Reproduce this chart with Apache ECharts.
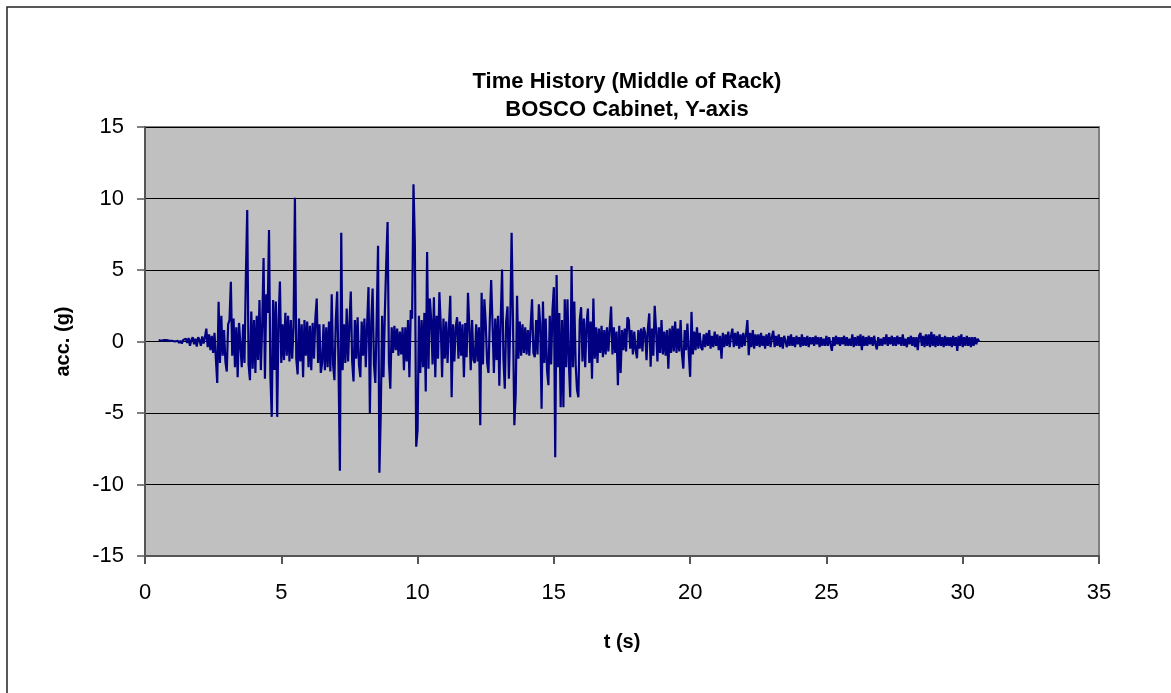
<!DOCTYPE html>
<html>
<head>
<meta charset="utf-8">
<script src="https://cdn.jsdelivr.net/npm/echarts@6/dist/echarts.min.js"></script>
<style>
  html, body { margin: 0; padding: 0; background: #fff; }
  #chart { width: 1171px; height: 693px; }
</style>
</head>
<body>
<div id="chart"></div>
<script>
  // sampling of the record (s)
  var tStart = 0.5;
  var dt = 0.05;

  // acceleration (g), one row per second from tStart
  var accel = [
    0.1,0.1,0.05,0.1,0.1,0.05,0.1,0.1,0.05,0.1,0.05,0.1,0.0,0.1,0.05,-0.1,0.05,-0.15,0.1,0.0,
    0.2,-0.1,0.25,-0.3,0.1,0.3,-0.2,0.2,-0.35,0.3,0.1,-0.3,0.35,-0.15,0.3,0.9,-0.4,0.5,-0.6,0.4,
    -0.8,0.6,-1.2,-2.9,2.77,-1.5,1.8,-1.0,0.8,-1.4,-2.1,1.2,1.5,4.17,-1.0,1.6,-1.8,1.0,-2.5,1.3,
    1.4,-1.8,1.2,-1.5,4.5,9.2,-1.6,-2.7,2.1,-1.9,1.5,-2.2,1.8,-1.3,2.9,-2.0,1.2,5.84,-2.6,3.3,
    2.0,7.8,-2.4,-5.27,2.9,-2.0,2.8,-5.27,1.5,4.2,-1.5,1.2,-1.3,2.0,-1.0,1.8,-1.4,1.5,-1.2,1.0,
    10.06,-1.2,-2.3,1.6,-1.4,1.2,-2.5,1.5,-1.0,1.4,-1.8,1.1,-2.0,1.3,-1.2,1.6,3.0,-1.5,1.2,-2.2,
    -1.5,1.2,-2.0,1.0,-1.8,1.4,-2.1,3.3,-1.6,-2.7,1.5,3.5,-1.8,-9.04,7.6,-2.0,1.2,-1.5,2.3,-1.4,
    1.2,3.5,-1.4,-2.8,1.5,-1.2,1.7,-1.6,-2.5,1.4,-1.0,1.6,-1.8,1.2,3.8,-5.0,1.3,3.7,-1.6,-2.9,
    1.5,6.7,-9.18,-5.0,1.8,-2.5,2.0,5.5,8.36,-1.5,-3.3,1.0,-0.8,1.1,-0.6,0.9,-1.0,0.7,-0.9,1.0,
    -2.0,1.0,-1.4,1.5,-2.5,2.2,1.6,11.0,6.9,-7.36,-6.2,1.8,-2.2,1.5,-1.8,2.0,-3.5,6.26,-1.9,3.0,
    1.5,-1.6,3.1,-2.5,1.8,-1.2,3.45,1.2,-2.5,1.6,-1.2,1.4,-1.5,1.0,3.2,-3.9,1.2,-1.4,1.0,1.7,
    -1.2,1.4,-1.0,1.2,-2.5,1.3,-1.1,3.4,1.0,-2.0,1.5,-1.3,-1.5,1.2,-1.4,1.0,-5.85,3.4,-1.6,2.95,
    1.3,-1.4,-2.2,1.5,4.3,1.2,-2.2,1.6,-1.3,1.8,-3.1,1.5,5.03,-1.2,-3.3,1.4,2.45,-2.6,1.2,7.6,
    1.5,-5.85,-3.7,3.2,-1.2,1.4,-1.0,1.2,-0.8,1.0,-0.9,0.8,-1.0,1.1,2.95,-0.8,-1.1,1.5,-0.9,2.6,
    1.2,-4.7,2.8,-1.5,1.6,-2.0,-3.05,1.8,-1.6,2.2,3.8,-8.1,4.65,-1.8,2.0,-4.6,1.5,-4.6,2.95,-1.8,
    2.95,-1.5,-3.9,5.28,-1.8,2.8,-1.6,-3.4,-3.9,1.5,2.4,-1.4,1.6,-1.8,1.2,2.3,-1.5,1.4,-2.6,3.0,
    -1.2,1.0,-1.5,0.9,-0.8,1.1,-1.1,0.8,-0.9,1.0,-0.7,0.9,2.45,-0.9,1.0,-0.8,0.7,-3.05,1.1,-2.2,
    0.8,-0.6,0.9,-0.7,1.7,1.5,-0.5,0.8,-0.9,0.7,-0.6,-1.17,0.8,-0.5,0.9,-0.7,1.0,0.6,-1.3,0.9,
    1.96,-1.77,0.9,-1.0,2.49,0.8,-1.4,1.0,-0.8,1.5,-0.9,0.7,-1.0,0.8,-1.9,0.9,-0.8,1.1,-0.7,1.4,
    -0.8,0.9,-0.7,1.5,-0.9,-1.9,0.8,-0.6,1.25,-0.8,-2.47,2.07,-0.9,0.7,-0.6,1.0,-0.5,0.6,-0.4,-0.6,
    0.5,-0.4,0.6,-0.3,0.8,-0.5,0.4,-0.4,0.7,-0.3,0.5,-0.6,0.4,-1.2,0.6,-0.4,0.5,-0.3,0.7,-0.4,
    0.4,0.9,-0.4,0.6,-0.3,0.7,-0.5,0.5,-0.4,0.6,-0.3,0.5,1.5,-0.95,0.6,-0.4,0.8,-0.5,0.5,-0.3,
    0.5,-0.4,0.6,-0.3,0.4,-0.5,0.5,-0.3,0.6,-0.4,0.3,0.75,-0.4,0.4,-0.3,0.5,-0.4,0.3,-0.5,0.4,
    0.3,-0.4,0.4,-0.3,0.5,-0.3,0.3,-0.4,0.4,-0.2,0.3,-0.4,0.5,-0.3,0.3,-0.3,0.4,-0.4,0.3,-0.2,
    0.3,-0.3,0.4,-0.2,0.3,-0.4,0.3,-0.3,0.2,-0.3,0.4,-0.3,0.3,-0.2,-0.65,0.3,-0.3,0.4,-0.2,0.3,
    -0.3,0.3,-0.2,0.4,-0.3,0.3,-0.3,0.2,-0.3,0.5,-0.4,0.3,-0.3,0.4,-0.3,0.5,-0.6,0.4,-0.3,0.3,
    -0.3,0.4,-0.2,0.3,-0.3,0.4,-0.2,-0.55,0.3,-0.3,0.2,-0.3,0.3,-0.2,0.5,-0.3,0.3,-0.2,0.4,-0.3,
    0.3,-0.3,0.4,-0.2,0.3,-0.3,0.5,-0.3,0.2,-0.4,0.3,-0.2,0.4,-0.3,0.3,-0.4,0.3,-0.6,0.4,0.6,
    -0.3,0.4,-0.4,0.5,-0.3,0.5,-0.4,0.68,-0.3,0.5,-0.4,0.4,-0.3,0.5,-0.3,0.3,-0.4,0.4,-0.3,0.3,
    -0.3,0.3,-0.4,0.4,-0.3,0.3,-0.66,0.4,-0.3,0.5,-0.4,0.3,-0.3,0.4,-0.3,0.3,-0.4,0.3,-0.3,0.3,
    -0.2,0.2,0.0
  ];

  var titleLines = ['Time History (Middle of Rack)', 'BOSCO Cabinet, Y-axis'];
  var xName = 't (s)';
  var yName = 'acc. (g)';

  var chart = echarts.init(document.getElementById('chart'), null, { renderer: 'canvas' });

  var seriesData = accel.map(function (v, i) {
    return [+(tStart + i * dt).toFixed(3), v];
  });

  var font = 'Liberation Sans, Arial, sans-serif';

  chart.setOption({
    animation: false,
    backgroundColor: '#fff',
    title: {
      text: titleLines.join('\n'),
      left: 622,
      top: 63,
      textAlign: 'center',
      textStyle: {
        fontFamily: font,
        fontSize: 22,
        fontWeight: 'bold',
        color: '#000',
        lineHeight: 28
      }
    },
    graphic: [
      {
        type: 'polyline',
        shape: { points: [[7, 700], [7, 7], [1180, 7]] },
        style: { stroke: '#222', lineWidth: 1.5, fill: null }
      }
    ],
    grid: {
      left: 145,
      right: 72,
      top: 127,
      bottom: 137,
      show: true,
      backgroundColor: '#c0c0c0',
      borderColor: '#808080',
      borderWidth: 2
    },
    xAxis: {
      type: 'value',
      min: 0,
      max: 35,
      interval: 5,
      name: xName,
      nameLocation: 'middle',
      nameGap: 76,
      nameTextStyle: { fontFamily: font, fontSize: 20, fontWeight: 'bold', color: '#000' },
      axisLine: { show: true, onZero: false, lineStyle: { color: '#555', width: 2 } },
      axisTick: { show: true, inside: false, length: 8, lineStyle: { color: '#555', width: 2 } },
      axisLabel: { fontFamily: font, fontSize: 22, color: '#000', margin: 26 },
      splitLine: { show: false }
    },
    yAxis: {
      type: 'value',
      min: -15,
      max: 15,
      interval: 5,
      name: yName,
      nameLocation: 'middle',
      nameGap: 72,
      nameRotate: 90,
      nameTextStyle: { fontFamily: font, fontSize: 20, fontWeight: 'bold', color: '#000' },
      axisLine: { show: true, lineStyle: { color: '#555', width: 2 } },
      axisTick: { show: true, inside: false, length: 8, lineStyle: { color: '#555', width: 1.5 } },
      axisLabel: { fontFamily: font, fontSize: 22, color: '#000', margin: 21 },
      splitLine: { show: true, lineStyle: { color: '#000', width: 1 } }
    },
    series: [
      {
        type: 'line',
        data: seriesData,
        showSymbol: false,
        symbol: 'none',
        sampling: null,
        lineStyle: { color: '#000080', width: 2.2 },
        z: 3
      }
    ]
  });
</script>
</body>
</html>
